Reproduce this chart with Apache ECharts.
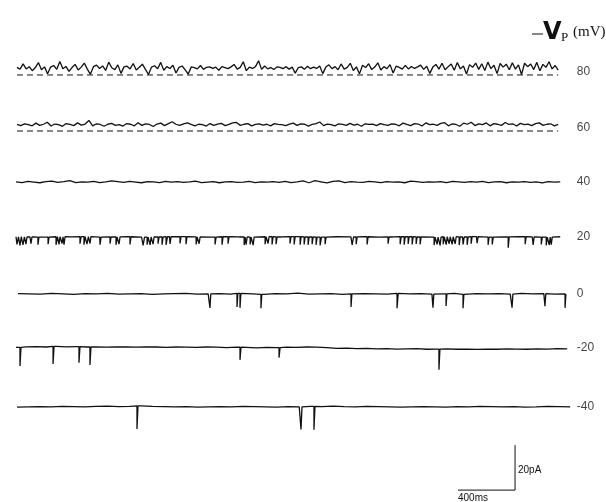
<!DOCTYPE html>
<html><head><meta charset="utf-8">
<script src="https://cdn.jsdelivr.net/npm/echarts@6/dist/echarts.min.js"></script>
<style>html,body{margin:0;padding:0;background:#fff}#c{width:606px;height:502px}</style>
</head><body><div id="c"></div>
<script>
// ---- data ----
const voltageLabels = ['80', '60', '40', '20', '0', '-20', '-40'];
const scaleTimeMs = 400;
const scaleCurrentPA = 20;

// noise of each trace around its level (pA)
const noise80 = [0.3,-0.5,1.8,-0.4,0.6,-1.2,0.2,2.4,-0.8,0.5,-2.6,0.4,1.1,-0.6,2.9,-0.3,0.7,-1.5,0.2,1.6,-0.9,0.4,2.2,-0.5,-2.8,0.6,1.3,-0.2,0.9,-1.1,2.6,0.1,-0.7,1.4,-2.4,0.5,0.8,-0.4,2.0,-0.9,0.3,1.7,-0.6,-2.9,0.4,1.0,-0.3,2.5,-1.0,0.6,-0.2,1.2,-2.2,0.3,0.9,-0.8,-2.7,0.5,0.2,-0.4,1.1,-0.6,0.3,0.5,-0.2,0.4,-1.0,0.6,0.2,-0.3,0.5,1.6,-0.5,0.3,2.8,-1.2,0.4,-0.2,0.6,3.2,-0.6,0.9,-0.4,0.2,-0.7,0.5,0.3,-0.3,0.6,-0.5,0.4,-2.3,0.2,0.5,-0.6,0.8,-0.3,0.4,-0.2,0.9,-2.5,0.4,1.4,-0.3,0.6,-0.8,1.8,-0.5,0.3,2.1,-1.1,0.5,-2.6,1.2,0.2,1.9,-0.7,0.4,2.3,-0.9,0.6,-0.3,1.5,-2.2,0.8,0.3,-0.5,1.2,-0.4,0.7,-0.2,0.5,1.3,-0.6,0.8,-2.4,0.4,1.6,-0.5,2.1,-0.8,0.6,1.8,-1.0,2.4,-0.4,0.9,-2.7,1.5,0.3,2.2,-0.6,1.9,-1.1,2.6,-0.3,1.2,-2.5,2.0,0.4,1.7,-0.8,2.3,-0.5,1.4,-2.9,2.1,0.6,1.8,-0.7,2.5,-1.2,1.6,0.3,2.8,-0.4,1.1,-0.9];
const noise60 = [0.2,-0.3,0.5,0.1,-0.4,0.8,-0.2,0.3,1.2,-0.5,0.4,0.1,-0.6,0.6,0.2,-0.3,0.9,-0.1,0.4,2.0,-0.4,0.5,0.2,-0.6,0.3,0.7,-0.2,0.1,-0.5,0.6,0.3,-0.4,1.0,-0.2,0.5,0.2,-0.7,0.4,0.8,-0.3,0.6,1.4,0.3,-0.2,0.5,0.9,0.2,-0.4,0.3,0.1,-0.5,0.6,-0.2,0.4,0.7,-0.3,0.2,0.9,1.1,-0.2,0.3,0.6,-0.4,0.2,0.5,-0.1,0.3,-0.4,0.6,0.2,0.1,-0.3,0.4,0.8,-0.2,0.5,0.3,-0.5,0.2,0.6,1.3,-0.3,0.4,0.1,-0.4,0.5,0.2,-0.2,0.7,-0.1,0.3,-0.6,0.5,0.2,0.4,-0.3,0.6,0.1,-0.2,0.5,0.3,-0.4,0.8,0.2,-0.3,0.6,0.4,-0.5,0.9,0.1,0.3,-0.2,0.7,1.0,-0.4,0.5,0.2,-0.6,0.8,0.3,1.2,-0.3,0.5,0.1,0.9,-0.4,0.6,0.3,-0.2,1.1,0.2,0.5,-0.5,0.7,0.1,0.4,-0.3,0.6,0.9,-0.2,0.3,0.5,-0.4,0.2];
const noise40 = [0.1,-0.2,0.3,0.0,-0.3,0.2,0.4,-0.1,0.2,0.6,-0.2,0.1,0.0,0.3,-0.2,0.1,0.5,0.2,-0.1,0.3,0.0,-0.3,0.2,0.1,-0.2,0.3,0.0,0.2,-0.1,0.1,0.4,-0.2,0.0,0.2,-0.3,0.1,0.2,-0.1,0.0,0.3,-0.2,0.1,0.0,0.2,-0.1,0.3,-0.2,0.1,0.5,-0.3,0.6,0.1,-0.4,0.3,0.5,-0.2,0.2,0.0,-0.1,0.3,0.1,-0.2,0.2,0.0,0.1,-0.3,0.4,0.2,-0.1,0.1,0.0,0.2,-0.2,0.3,0.1,-0.1,0.2,0.0,0.3,-0.2,0.1,0.2,-0.3,0.1,0.0,0.2,-0.1,0.1,-0.4,0.2,0.0,0.1];
const noise20 = [0.1,0.0,-0.1,0.1,0.0,0.2,-0.1,0.0,0.1,-0.1,0.0,0.1,0.2,0.0,-0.1,0.1,0.0,-0.1,0.1,0.0,0.2,0.0,-0.1,0.1,0.0,0.1,-0.1,0.0,0.1,0.0,-0.1,0.1,0.0,0.2,-0.1,0.0,0.1,0.0,-0.1,0.1];
const noise0 = [0.1,0.0,-0.1,0.2,0.0,-0.2,0.1,0.0,0.2,-0.1,0.0,0.1,-0.2,0.0,0.1,0.2,-0.1,0.0,0.1,-0.1,0.2,0.0,-0.2,0.1,0.0,0.3,-0.1,0.0,0.1,-0.2,0.0,0.1,0.0,-0.1,0.2,0.0,0.1,-0.1,0.0,0.2,-0.2,0.1,0.0,0.1,-0.1,0.2,0.0,0.1,-0.1,0.0];
const noiseM20 = [0.2,0.5,0.6,0.4,0.7,0.5,0.6,0.4,0.5,0.3,0.5,0.4,0.3,0.5,0.4,0.2,0.4,0.3,0.2,0.4,0.3,0.1,0.3,0.2,0.0,0.2,0.1,0.3,0.2,0.4,0.3,0.1,-0.2,-0.1,-0.3,-0.2,-0.4,-0.3,-0.5,-0.4,-0.3,-0.6,-0.5,-0.4,-0.6,-0.5,-0.7,-0.5,-0.6,-0.4,-0.5,-0.6,-0.4,-0.5,-0.3,-0.4];
const noiseM40 = [0.0,0.1,0.2,0.1,0.3,0.2,0.1,0.3,0.4,0.2,0.3,0.5,0.3,0.2,0.1,0.2,0.0,0.1,0.2,0.1,0.3,0.2,0.1,0.0,0.2,0.1,0.3,0.2,0.4,0.2,0.1,0.3,0.2,0.1,0.0,0.1,0.2,0.1,0.0,0.2,0.1,0.3,0.2,0.1,0.2,0.0,0.1,0.3,0.2,0.1];

// channel events: [start ms, duration ms, amplitude pA]
const events20 = [[7,10,-3.4],[28,9,-3.8],[49,10,-3.5],[70,7,-3.2],[105,7,-3.0],[154,7,-3.3],[225,7,-3.1],[281,10,-3.6],[302,7,-3.4],[323,7,-3.0],[337,7,-3.5],[449,8,-3.2],[477,7,-3.6],[498,10,-3.4],[519,7,-3.1],[590,7,-3.3],[660,7,-3.0],[702,7,-3.5],[723,7,-3.2],[800,7,-3.4],[892,10,-3.6],[920,7,-3.3],[941,7,-3.5],[962,7,-3.2],[997,7,-3.0],[1025,7,-3.4],[1053,10,-3.6],[1081,7,-3.2],[1151,7,-3.1],[1193,7,-3.4],[1264,7,-3.3],[1285,7,-3.0],[1397,7,-3.2],[1446,7,-3.5],[1488,7,-3.1],[1601,7,-3.6],[1615,7,-3.4],[1643,7,-3.2],[1664,7,-3.5],[1748,7,-3.3],[1769,7,-3.0],[1797,7,-3.4],[1825,7,-3.2],[1923,7,-3.1],[1952,7,-3.5],[1994,7,-3.6],[2022,7,-3.3],[2050,7,-3.5],[2078,7,-3.2],[2106,7,-3.4],[2134,10,-3.6],[2169,7,-3.1],[2359,10,-3.5],[2387,7,-3.2],[2464,7,-3.4],[2611,7,-3.0],[2696,7,-3.3],[2724,7,-3.5],[2752,7,-3.2],[2780,7,-3.4],[2808,7,-3.1],[2836,7,-3.3],[2934,7,-3.5],[2955,7,-3.2],[2976,7,-3.6],[2998,7,-3.3],[3019,7,-3.5],[3040,7,-3.1],[3061,7,-3.4],[3082,7,-3.2],[3110,7,-3.6],[3138,7,-3.3],[3166,7,-3.5],[3194,7,-3.2],[3236,7,-3.0],[3313,7,-3.4],[3342,7,-3.2],[3454,7,-4.8],[3573,7,-3.3],[3629,7,-3.5],[3686,7,-3.2],[3721,7,-3.6],[3742,7,-3.4],[3756,7,-3.3]];
const events0 = [[1361,6,-6.2],[1551,6,-6.0],[1572,6,-6.4],[1719,6,-6.2],[2351,6,-5.8],[2674,8,-6.6],[2926,6,-6.0],[3018,6,-5.4],[3137,6,-6.2],[3481,6,-6.0],[3712,6,-5.6],[3853,6,-6.2]];
const eventsM20 = [[28,7,-8.2],[260,7,-7.8],[442,7,-7.2],[519,7,-8.0],[1572,7,-5.6],[1846,7,-4.4],[2968,7,-9.2]];
const eventsM40 = [[849,7,-10.2],[2000,7,-10.0],[2091,7,-10.4]];

// ---- layout (vertical offsets of the traces on the page, pA units) ----
const layout = [
  {base: -8.0,   closed: -11.1, t0: 7,  t1: 3805, noise: noise80,  events: []},
  {base: -33.3,  closed: -36.0, t0: 7,  t1: 3805, noise: noise60,  events: []},
  {base: -58.7,  closed: null,  t0: 0,  t1: 3819, noise: noise40,  events: []},
  {base: -83.1,  closed: null,  t0: 0,  t1: 3819, noise: noise20,  events: events20},
  {base: -108.4, closed: null,  t0: 14, t1: 3861, noise: noise0,   events: events0},
  {base: -132.4, closed: null,  t0: 0,  t1: 3868, noise: noiseM20, events: eventsM20},
  {base: -158.7, closed: null,  t0: 7,  t1: 3889, noise: noiseM40, events: eventsM40}
];
const labelTime = 3935;
const barX = 3502, barY = -195.6;

function buildTrace(t0, t1, base, noise, events) {
  const n = noise.length;
  const dt = (t1 - t0) / (n - 1);
  const ev = events.slice().sort((a, b) => a[0] - b[0]);
  const inEvent = t => ev.some(e => t >= e[0] - 1 && t <= e[0] + e[1] + 1);
  const pts = [];
  noise.forEach((v, i) => { const t = t0 + i * dt; if (!inEvent(t)) pts.push([t, base + v]); });
  ev.forEach(e => {
    const i = Math.min(n - 1, Math.max(0, Math.round((e[0] - t0) / dt)));
    const b = base + noise[i];
    pts.push([e[0], b], [e[0] + 0.01, b + e[2]], [e[0] + e[1], b + e[2]], [e[0] + e[1] + 0.01, b]);
  });
  pts.sort((a, b) => a[0] - b[0]);
  return pts;
}

const ink = '#111';
const series = [];
layout.forEach((L, k) => {
  series.push({
    type: 'line', name: voltageLabels[k] + ' mV', data: buildTrace(L.t0, L.t1, L.base, L.noise, L.events),
    showSymbol: false, symbol: 'none', lineStyle: {color: ink, width: 1.3}, silent: true
  });
  if (L.closed !== null) {
    series.push({
      type: 'line', data: [[L.t0, L.closed], [L.t1, L.closed]], symbol: 'none',
      lineStyle: {color: ink, width: 1, type: [6, 4]}, silent: true
    });
  }
});
// scale bar
series.push({
  type: 'line', symbol: 'none', silent: true,
  data: [[barX, barY + scaleCurrentPA], [barX, barY], [barX - scaleTimeMs, barY]],
  lineStyle: {color: ink, width: 1}
});
// voltage labels
series.push({
  type: 'scatter', symbolSize: 0, silent: true,
  data: layout.map((L, k) => ({value: [labelTime, L.closed !== null ? (L.base + L.closed) / 2 : L.base], name: voltageLabels[k]})),
  label: {show: true, position: 'right', distance: 0, formatter: p => p.name,
          color: '#111', fontSize: 12, fontFamily: 'Liberation Sans, Arial, sans-serif'}
});

const chart = echarts.init(document.getElementById('c'), null, {renderer: 'canvas'});
chart.setOption({
  animation: false,
  backgroundColor: '#fff',
  grid: {left: 16, top: 5, width: 570, height: 495},
  xAxis: {type: 'value', min: 0, max: 4000, show: false},
  yAxis: {type: 'value', min: -200, max: 20, show: false},
  series: series,
  graphic: [
    {type: 'line', shape: {x1: 532, y1: 34, x2: 543, y2: 34}, style: {stroke: ink, lineWidth: 1}},
    {type: 'text', left: 543, top: 21, style: {text: 'V', font: 'bold 24px "DejaVu Sans"', fill: '#111'}},
    {type: 'text', left: 561, top: 31, style: {text: 'P', font: '13px "Liberation Serif"', fill: '#111'}},
    {type: 'text', left: 573, top: 25, style: {text: '(mV)', font: '15px "Liberation Serif"', fill: '#111'}},
    {type: 'text', left: 518, top: 465, style: {text: '20pA', font: '10px "Liberation Sans"', fill: '#111'}},
    {type: 'text', left: 458, top: 493, style: {text: '400ms', font: '10px "Liberation Sans"', fill: '#111'}}
  ]
});
</script></body></html>
